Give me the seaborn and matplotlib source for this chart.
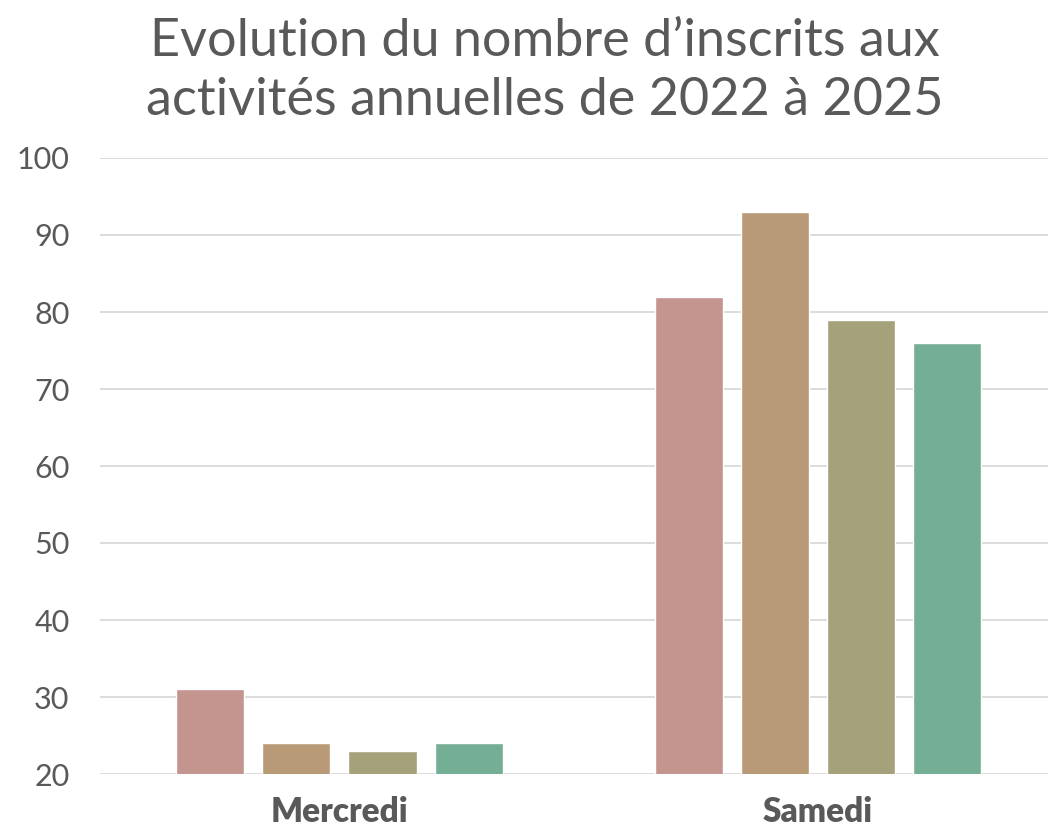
import pandas as pd
import seaborn as sns
import matplotlib.pyplot as plt

jours = ["Mercredi", "Samedi"]
annees = ["2022", "2023", "2024", "2025"]
inscrits_mercredi = [31, 24, 23, 24]
inscrits_samedi = [82, 93, 79, 76]
couleurs = ["#C4948F", "#B89A77", "#A5A17A", "#74AE95"]

titre = "Evolution du nombre d\u2019inscrits aux\nactivités annuelles de 2022 à 2025"

rows = []
for jour, vals in zip(jours, [inscrits_mercredi, inscrits_samedi]):
    for annee, v in zip(annees, vals):
        rows.append({"jour": jour, "annee": annee, "inscrits": v})
df = pd.DataFrame(rows)

sns.set_style("white")
plt.rcParams['font.family'] = ['Lato', 'DejaVu Sans']

fig = plt.figure(figsize=(10.51, 8.3), dpi=100)
ax = fig.add_axes([100 / 1051, 1 - 774 / 830, 948 / 1051, 616 / 830])

sns.barplot(data=df, x="jour", y="inscrits", hue="annee", hue_order=annees,
            palette=couleurs, width=0.72, gap=0.21, legend=False,
            saturation=1, ax=ax, zorder=3)

ax.set_ylim(20, 100)
ax.set_xlim(-0.5, 1.48)
ax.set_yticks(range(20, 101, 10))
ax.yaxis.grid(True, color="#D9D9D9", linewidth=1.3, zorder=0)
ax.set_axisbelow(True)
for s in ax.spines.values():
    s.set_visible(False)
ax.set_xlabel("")
ax.set_ylabel("")
ax.tick_params(axis="y", length=0, pad=22, labelsize=22, labelcolor="#595959")
ax.tick_params(axis="x", length=0, pad=16, labelsize=24, labelcolor="#595959")
for lbl in ax.get_xticklabels():
    lbl.set_fontweight("heavy")

fig.text(545 / 1051, 1 - 71 / 830, titre, ha="center", va="center",
         fontsize=37.5, color="#595959", linespacing=1.3)

plt.savefig("out.png", dpi=100)
